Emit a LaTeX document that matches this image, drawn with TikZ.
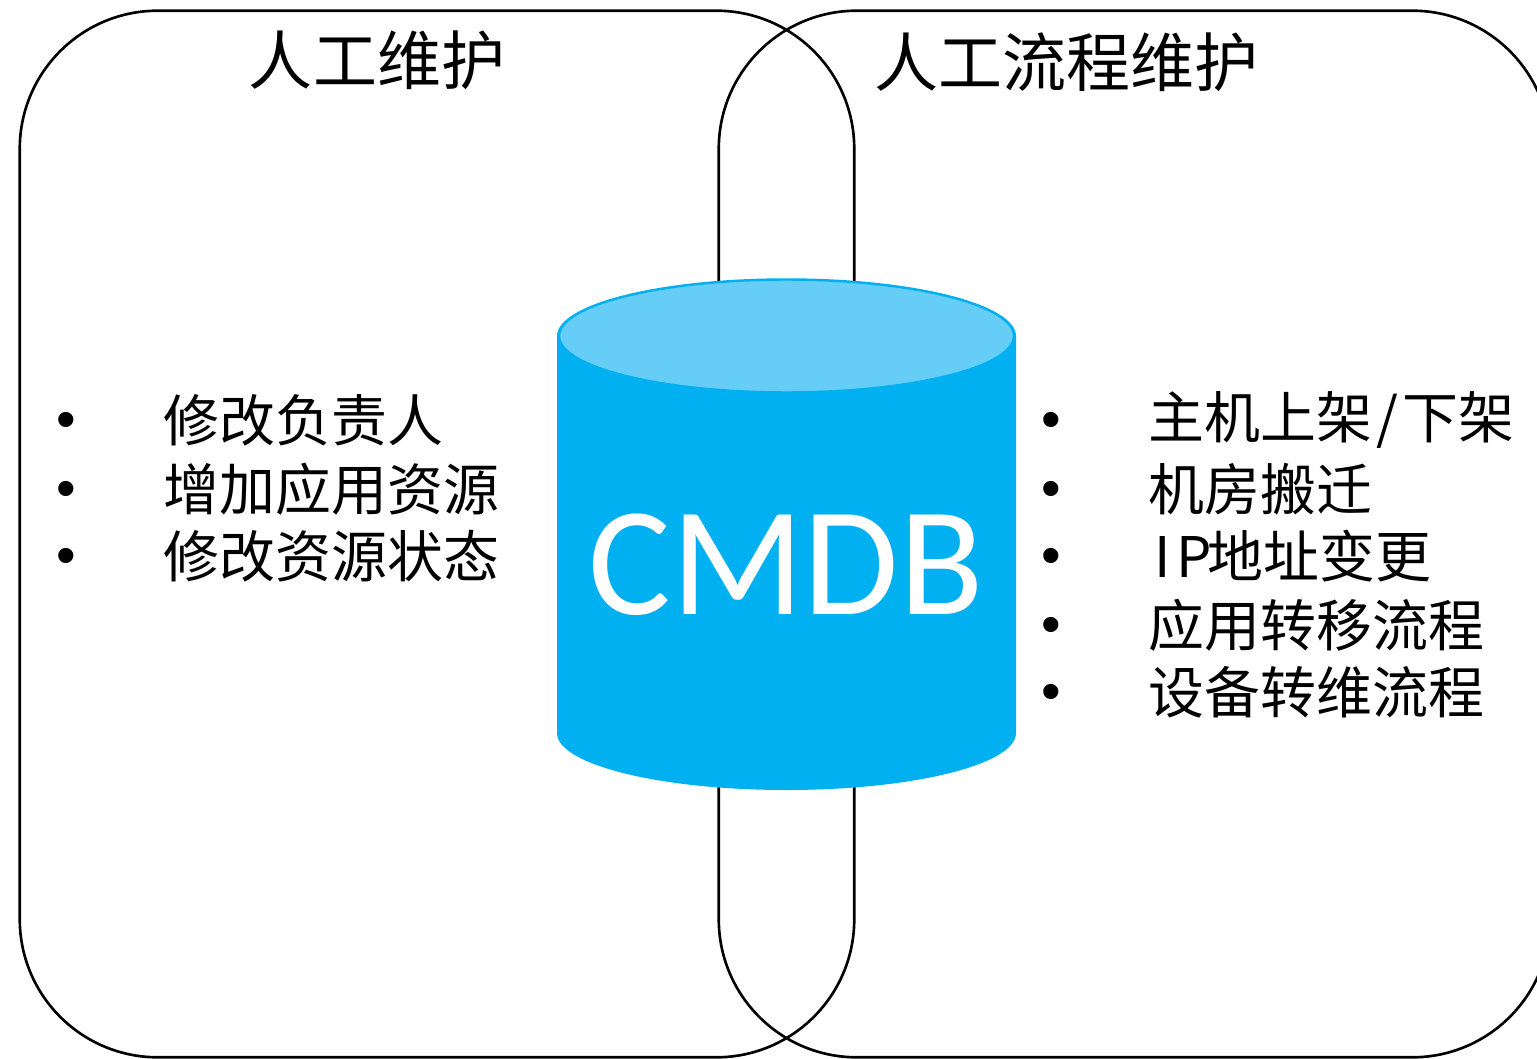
\documentclass[tikz,border=0pt]{standalone}
\usepackage{fontspec}
\setmainfont{Carlito}
\newfontfamily\cjk{Noto Sans CJK SC}
\newfontfamily\bulletfont{Liberation Sans}
\definecolor{cmdbblue}{HTML}{00B0F0}
\definecolor{cmdbtop}{HTML}{66CEF6}
\tikzset{
  areabox/.style={draw=black,line width=0.75pt,rounded corners=1.38cm,minimum height=10.46cm,inner sep=0pt,outer sep=0pt},
  titletext/.style={font=\cjk\fontsize{18.2}{20}\selectfont,inner sep=0pt},
  itemtext/.style={font=\cjk\fontsize{15.9}{18}\selectfont,anchor=west,inner sep=0pt},
  itemdot/.style={font=\bulletfont\fontsize{15.9}{18}\selectfont,inner sep=0pt,yshift=-0.055cm}
}
\begin{document}
\begin{tikzpicture}[x=0.01cm,y=-0.01cm]

  \clip (0,0) rectangle (1537,1058);

  \node[areabox,minimum width=8.34cm] (manual) at (437,534) {};
  \node[areabox,minimum width=8.31cm] (process) at (1134.5,534) {};

  \node[titletext] (manualtitle) at (377,60) {人工维护};
  \node[titletext] (processtitle) at (1066,62) {人工流程维护};

  % cylinder
  \fill[cmdbblue] (557,336) -- (557,733) arc[start angle=180,end angle=0,x radius=229.5,y radius=57]
    -- (1016,336) arc[start angle=0,end angle=-180,x radius=229.5,y radius=57] -- cycle;
  \draw[cmdbblue,fill=cmdbtop,line width=0.7pt] (786.5,336) ellipse[x radius=227.5,y radius=56.5];
  \node[font=\fontsize{44.1}{50}\selectfont,text=white,inner sep=0pt] (cmdblabel) at (786,565) {CMDB};

  \foreach \y/\txt in {420/修改负责人,489/增加应用资源,556/修改资源状态}
  {
    \node[itemdot] (ldot\y) at (66,\y) {•};
    \node[itemtext] (litem\y) at (163,\y) {\txt};
  }

  \foreach \y/\txt in {420/{\raisebox{-0.02cm}{主机上架\hspace{0.04cm}/\hspace{0.04cm}下架}},489/机房搬迁,556/{\hspace{0.06cm}I\hspace{0.05cm}P\hspace{-0.04cm}地址变更},625/应用转移流程,692/设备转维流程}
  {
    \node[itemdot] (rdot\y) at (1051,\y) {•};
    \node[itemtext] (ritem\y) at (1148,\y) {\txt};
  }

\end{tikzpicture}
\end{document}
